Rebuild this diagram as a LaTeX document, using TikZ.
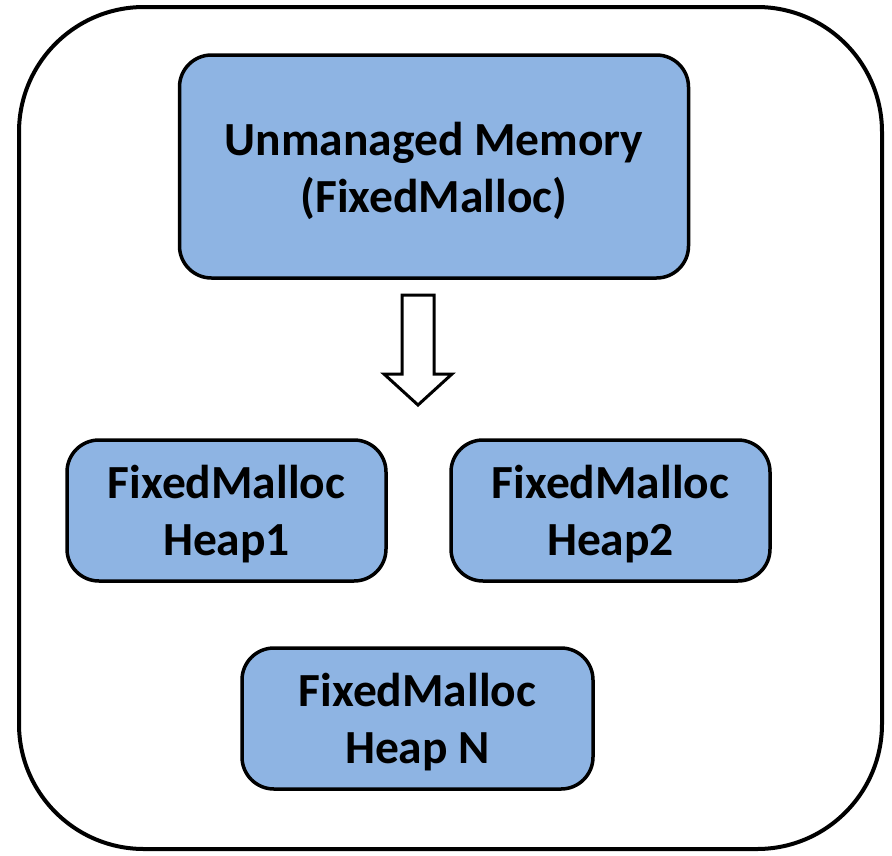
\documentclass[tikz,border=0pt]{standalone}
\usepackage{fontspec}
\setmainfont{Carlito}
\begin{document}
\begin{tikzpicture}[x=1pt,y=-1pt,
  blockbox/.style={draw=black, line width=3.5pt, fill=boxblue, rounded corners=32pt,
    inner sep=0pt},
  blocktext/.style={align=center, inner sep=0pt, yshift=-4pt,
    font=\fontsize{47.5}{57}\selectfont\bfseries},
  frame/.style={draw=black, line width=4pt, rounded corners=125pt},
  hollowarrow/.style={draw=black, line width=3pt, fill=white, line join=miter}]
\definecolor{boxblue}{HTML}{8EB4E3}
\useasboundingbox (0,0) rectangle (892,855);
% outer container
\draw[frame] (19,7) rectangle (882,849);
% memory blocks
\node[blockbox, minimum width=509pt, minimum height=223pt,
  label={[blocktext]center:Unmanaged Memory\\(FixedMalloc)}] (top) at (434,166.5) {};
\node[blockbox, minimum width=319pt, minimum height=141pt,
  label={[blocktext]center:FixedMalloc\\Heap1}] (h1) at (226.5,510.5) {};
\node[blockbox, minimum width=319pt, minimum height=141pt,
  label={[blocktext]center:FixedMalloc\\Heap2}] (h2) at (610.5,510.5) {};
\node[blockbox, minimum width=351pt, minimum height=141pt,
  label={[blocktext]center:FixedMalloc\\Heap N}] (hn) at (417.5,718.5) {};
% hollow block arrow below the top block
\coordinate (tip) at (418,405);
\draw[hollowarrow] (402,295) -- (434,295) -- (434,374) -- (452,374) -- (tip)
  -- (384,374) -- (402,374) -- cycle;
\end{tikzpicture}
\end{document}
